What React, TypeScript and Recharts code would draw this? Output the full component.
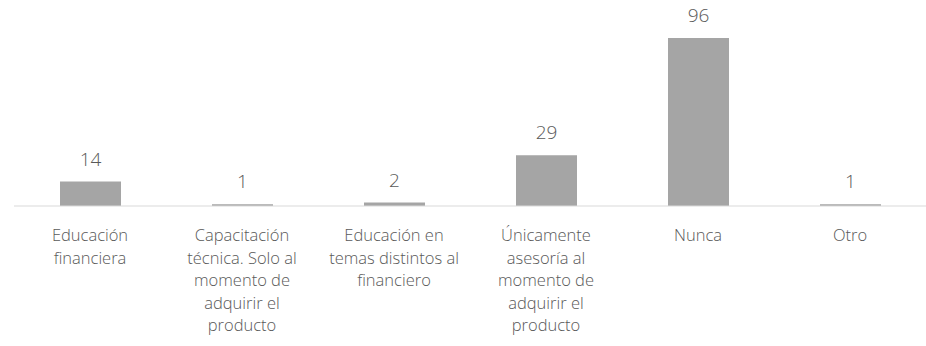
import React from 'react';
import { BarChart, Bar, XAxis, YAxis, LabelList } from 'recharts';

// tick labels keep the original line breaks
const categories = [
  'Educación\nfinanciera',
  'Capacitación\ntécnica. Solo al\nmomento de\nadquirir el\nproducto',
  'Educación en\ntemas distintos al\nfinanciero',
  'Únicamente\nasesoría al\nmomento de\nadquirir el\nproducto',
  'Nunca',
  'Otro',
];
const values = [14, 1, 2, 29, 96, 1];

const data = categories.map((name, i) => ({ name, value: values[i] }));

const TEXT = '#595959';
const FONT = '"Open Sans", sans-serif';

const WrappedTick = (props: any) => {
  const { x, y, payload } = props;
  const lines = String(payload.value).split('\n');
  return (
    <text x={x} y={y} textAnchor="middle" fill={TEXT} fontFamily={FONT} fontSize={16.5} fontWeight={300}>
      {lines.map((line, i) => (
        <tspan key={i} x={x} dy={i === 0 ? 27 : 22.6}>
          {line}
        </tspan>
      ))}
    </text>
  );
};

export default function App() {
  return (
    <div style={{ position: 'absolute', left: 0, top: 0, background: '#fff' }}>
      <BarChart
        width={926}
        height={346}
        data={data}
        margin={{ top: 38, right: 0, bottom: 0, left: 14 }}
        barCategoryGap="20%"
      >
        <XAxis
          dataKey="name"
          height={140}
          interval={0}
          tickLine={false}
          axisLine={{ stroke: '#D9D9D9', strokeWidth: 1 }}
          tick={<WrappedTick />}
        />
        <YAxis hide domain={[0, 96]} />
        <Bar dataKey="value" fill="#A5A5A5" barSize={61} isAnimationActive={false}>
          <LabelList
            dataKey="value"
            position="top"
            offset={16}
            fill={TEXT}
            fontFamily={FONT}
            fontSize={19}
            fontWeight={300}
          />
        </Bar>
      </BarChart>
    </div>
  );
}
